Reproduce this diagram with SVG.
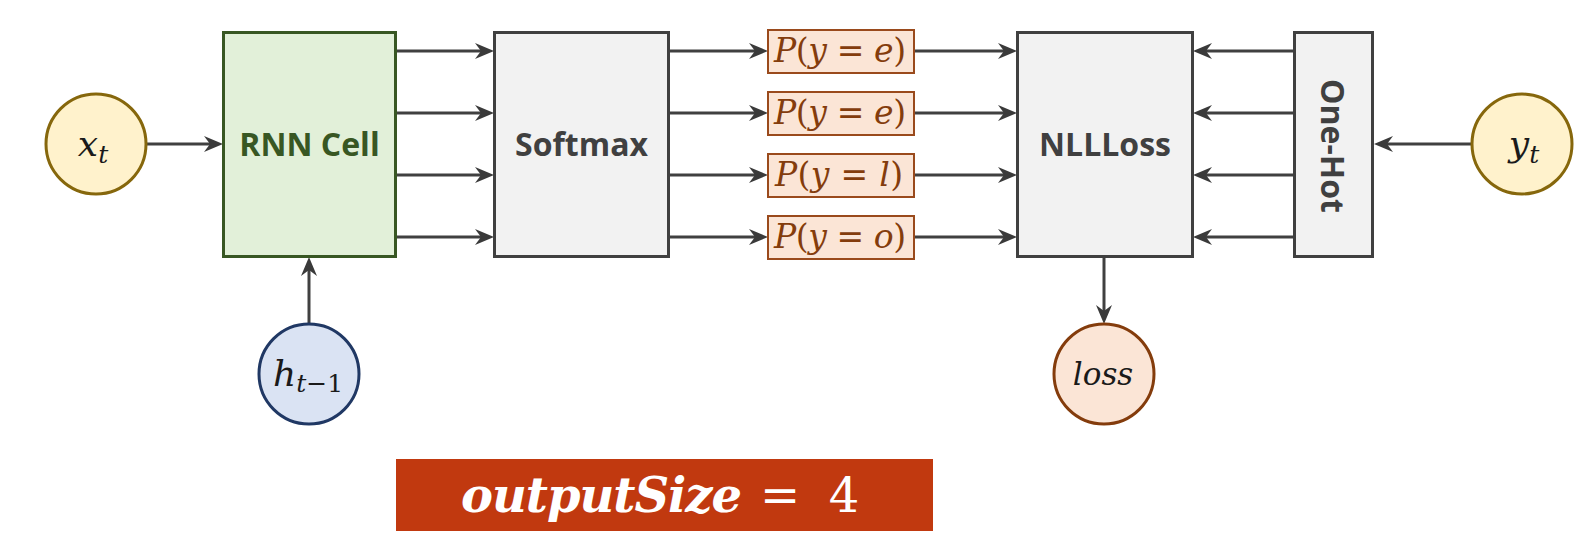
<svg xmlns="http://www.w3.org/2000/svg" width="1587" height="544" viewBox="0 0 1587 544">
<defs>
<style>
.box{stroke-width:3}
.gray{fill:#f2f2f2;stroke:#404040}
.lbl{font-family:"Open Sans","Liberation Sans",sans-serif;font-weight:bold;font-size:32px;text-anchor:middle}
.math{font-family:"DejaVu Serif","Liberation Serif",serif;font-style:italic}
.up{font-style:normal}
.pbox{fill:#fbe5d6;stroke:#9a4a1c;stroke-width:2}
.ptxt{font-family:"DejaVu Serif","Liberation Serif",serif;font-style:italic;font-size:33px;fill:#843c0c;text-anchor:middle}
.conn path{fill:none;stroke:#404040;stroke-width:3;marker-end:url(#ah)}
.big{font-family:"DejaVu Serif","Liberation Serif",serif;fill:#ffffff;font-size:48px}
</style>
<marker id="ah" markerUnits="userSpaceOnUse" markerWidth="19" markerHeight="17" refX="13" refY="8.5" orient="auto" viewBox="0 0 19 17">
<path d="M0,0.5 L19,8.5 L0,16.5 L6,8.5 z" fill="#3a3a3a"/>
</marker>
</defs>
<rect width="1587" height="544" fill="#ffffff"/>

<g class="conn" id="connectors">
<path d="M146,144 H217"/>
<path d="M396,51 H488"/>
<path d="M396,113 H488"/>
<path d="M396,175 H488"/>
<path d="M396,237 H488"/>
<path d="M669,51 H762"/>
<path d="M669,113 H762"/>
<path d="M669,175 H762"/>
<path d="M669,237 H762"/>
<path d="M914,51 H1011"/>
<path d="M914,113 H1011"/>
<path d="M914,175 H1011"/>
<path d="M914,237 H1011"/>
<path d="M1294,51 H1199"/>
<path d="M1294,113 H1199"/>
<path d="M1294,175 H1199"/>
<path d="M1294,237 H1199"/>
<path d="M1472,144 H1380"/>
<path d="M309,324 V263"/>
<path d="M1104,257 V318"/>
</g>

<g id="xt">
<circle cx="96" cy="144" r="50" fill="#fff2cc" stroke="#86670c" stroke-width="3"/>
<text class="math" x="93" y="156" font-size="36" fill="#1a1a1a" text-anchor="middle">x<tspan font-size="25" dy="7">t</tspan></text>
</g>

<g id="rnn">
<rect class="box" x="223.5" y="32.5" width="172" height="224" fill="#e2f0d9" stroke="#385723"/>
<text class="lbl" x="309.5" y="156" fill="#385723">RNN Cell</text>
</g>

<g id="softmax">
<rect class="box gray" x="494.5" y="32.5" width="174" height="224"/>
<text class="lbl" x="581.5" y="156" fill="#404040">Softmax</text>
</g>

<g id="p1">
<rect class="pbox" x="768" y="30" width="146" height="43"/>
<text class="ptxt" x="840" y="62" textLength="132">P<tspan class="up">(</tspan>y <tspan class="up">=</tspan> e<tspan class="up">)</tspan></text>
</g>
<g id="p2">
<rect class="pbox" x="768" y="92" width="146" height="43"/>
<text class="ptxt" x="840" y="124" textLength="132">P<tspan class="up">(</tspan>y <tspan class="up">=</tspan> e<tspan class="up">)</tspan></text>
</g>
<g id="p3">
<rect class="pbox" x="768" y="154" width="146" height="43"/>
<text class="ptxt" x="839" y="186" textLength="128">P<tspan class="up">(</tspan>y <tspan class="up">=</tspan> l<tspan class="up">)</tspan></text>
</g>
<g id="p4">
<rect class="pbox" x="768" y="216" width="146" height="43"/>
<text class="ptxt" x="840" y="248" textLength="132">P<tspan class="up">(</tspan>y <tspan class="up">=</tspan> o<tspan class="up">)</tspan></text>
</g>

<g id="nllloss">
<rect class="box gray" x="1017.5" y="32.5" width="175" height="224"/>
<text class="lbl" x="1105" y="156" fill="#404040">NLLLoss</text>
</g>

<g id="onehot">
<rect class="box gray" x="1294.5" y="32.5" width="78" height="224"/>
<text class="lbl" transform="translate(1321,146) rotate(90)" x="0" y="0" fill="#404040">One-Hot</text>
</g>

<g id="yt">
<circle cx="1522" cy="144" r="50" fill="#fff2cc" stroke="#86670c" stroke-width="3"/>
<text class="math" x="1524" y="156" font-size="36" fill="#1a1a1a" text-anchor="middle">y<tspan font-size="25" dy="7">t</tspan></text>
</g>

<g id="htm1">
<circle cx="309" cy="374" r="50" fill="#dae3f3" stroke="#203864" stroke-width="3"/>
<text class="math" x="308" y="386" font-size="36" fill="#1a1a1a" text-anchor="middle">h<tspan font-size="25" dy="6">t−<tspan class="up">1</tspan></tspan></text>
</g>

<g id="loss">
<circle cx="1104" cy="374" r="50" fill="#fbe5d6" stroke="#843c0c" stroke-width="3"/>
<text class="math" x="1103" y="385" font-size="31" fill="#1a1a1a" text-anchor="middle">loss</text>
</g>

<g id="outputsize">
<rect x="396" y="459" width="537" height="72" fill="#c1390f"/>
<text class="big math" x="461" y="512" font-weight="bold" textLength="281">outputSize</text>
<text class="big" x="780" y="512" text-anchor="middle">=</text>
<text class="big" x="844" y="512" font-size="45" text-anchor="middle">4</text>
</g>
</svg>
